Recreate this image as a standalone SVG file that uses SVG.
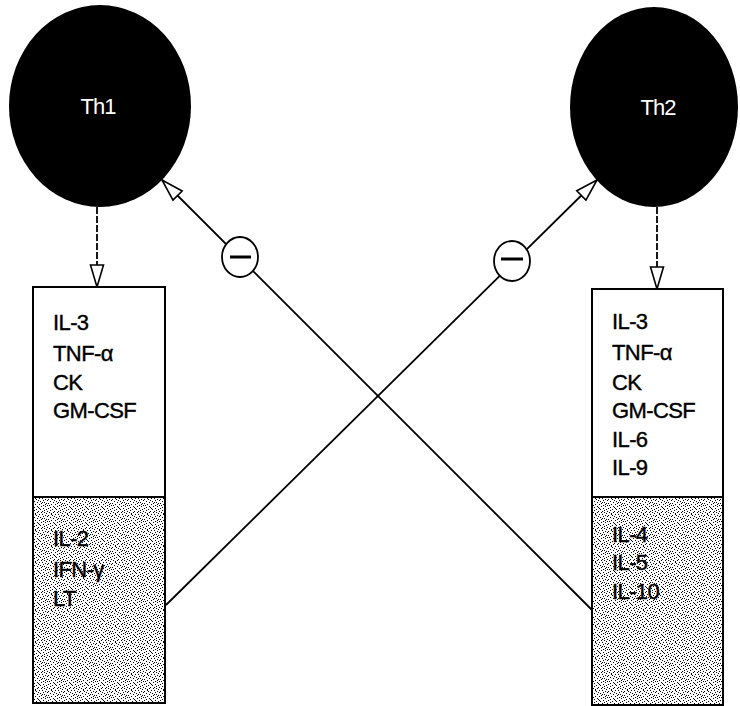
<svg xmlns="http://www.w3.org/2000/svg" width="740" height="706" viewBox="0 0 740 706">
<style>
.cell{fill:#000;stroke:none}
.cellt{font-family:"Liberation Sans",Arial,sans-serif;font-size:22px;fill:#fff;text-anchor:middle;letter-spacing:-1px}
.box{fill:#fff;stroke:#000;stroke-width:2}
.shade{fill:url(#stip);stroke:#000;stroke-width:2}
.lbl{font-family:"Liberation Sans",Arial,sans-serif;font-size:22px;fill:#000;stroke:#000;stroke-width:0.4;letter-spacing:-0.6px}
.conn{fill:none;stroke:#000;stroke-width:1.8}
.dash{stroke-dasharray:7 2}
.minus{fill:#fff;stroke:#000;stroke-width:1.8}
</style>
<defs>
<pattern id="stip" width="16" height="16" patternUnits="userSpaceOnUse">
<rect width="16" height="16" fill="#fff"/>
<path fill="#000" d="M1 0h1v1h-1zM5 0h1v1h-1zM9 0h1v1h-1zM12 0h1v1h-1zM14 1h1v1h-1zM3 1h1v1h-1zM7 2h1v1h-1zM10 2h1v1h-1zM0 3h1v1h-1zM4 3h1v1h-1zM13 3h1v1h-1zM6 4h1v1h-1zM11 4h1v1h-1zM15 4h1v1h-1zM2 5h1v1h-1zM8 5h1v1h-1zM12 6h1v1h-1zM5 6h1v1h-1zM0 7h1v1h-1zM9 7h1v1h-1zM14 7h1v1h-1zM3 8h1v1h-1zM7 8h1v1h-1zM11 9h1v1h-1zM1 9h1v1h-1zM15 9h1v1h-1zM5 10h1v1h-1zM9 10h1v1h-1zM13 10h1v1h-1zM2 11h1v1h-1zM7 12h1v1h-1zM11 12h1v1h-1zM0 12h1v1h-1zM4 13h1v1h-1zM14 13h1v1h-1zM8 13h1v1h-1zM2 14h1v1h-1zM12 14h1v1h-1zM6 15h1v1h-1zM10 15h1v1h-1zM15 15h1v1h-1zM3 2h1v1h-1zM13 8h1v1h-1zM6 11h1v1h-1zM10 6h1v1h-1z"/>
</pattern>
<marker id="open" viewBox="0 0 24 16" refX="23" refY="8" markerWidth="24" markerHeight="16" markerUnits="userSpaceOnUse" orient="auto">
<path d="M1,1.5 L23,8 L1,14.5 z" fill="#fff" stroke="#000" stroke-width="1.6" stroke-dasharray="none"/>
</marker>
</defs>
<rect width="740" height="706" fill="#fff"/>

<g id="th1">
<ellipse class="cell" cx="100" cy="106" rx="91" ry="101"/>
<text class="cellt" x="98" y="114">Th1</text>
</g>
<g id="th2">
<ellipse class="cell" cx="654" cy="107" rx="84" ry="100"/>
<text class="cellt" x="658" y="115">Th2</text>
</g>

<g id="th1-cytokines">
<rect class="box" x="33" y="287" width="132" height="210"/>
<text class="lbl" x="53" y="330">IL-3</text>
<text class="lbl" x="53" y="361">TNF-α</text>
<text class="lbl" x="53" y="390">CK</text>
<text class="lbl" x="53" y="418">GM-CSF</text>
</g>
<g id="th1-specific">
<rect class="shade" x="33" y="497" width="132" height="206"/>
<text class="lbl" x="53" y="546">IL-2</text>
<text class="lbl" x="53" y="577">IFN-γ</text>
<text class="lbl" x="53" y="606">LT</text>
</g>

<g id="th2-cytokines">
<rect class="box" x="592" y="289" width="131" height="208"/>
<text class="lbl" x="612" y="329">IL-3</text>
<text class="lbl" x="612" y="360">TNF-α</text>
<text class="lbl" x="612" y="390">CK</text>
<text class="lbl" x="612" y="418">GM-CSF</text>
<text class="lbl" x="612" y="447">IL-6</text>
<text class="lbl" x="612" y="475">IL-9</text>
</g>
<g id="th2-specific">
<rect class="shade" x="592" y="497" width="131" height="208"/>
<text class="lbl" x="612" y="542">IL-4</text>
<text class="lbl" x="612" y="570">IL-5</text>
<text class="lbl" x="612" y="599">IL-10</text>
</g>

<g id="connectors">
<line class="conn dash" x1="97" y1="207" x2="97" y2="287" marker-end="url(#open)"/>
<line class="conn dash" x1="657" y1="207" x2="657" y2="289" marker-end="url(#open)"/>
<line class="conn" x1="166" y1="605" x2="597" y2="180" marker-end="url(#open)"/>
<line class="conn" x1="592" y1="610" x2="162" y2="180" marker-end="url(#open)"/>
</g>

<g id="inhibit-th1">
<ellipse class="minus" cx="240" cy="257" rx="18" ry="20"/>
<line x1="230" y1="257" x2="251" y2="257" stroke="#000" stroke-width="3"/>
</g>
<g id="inhibit-th2">
<ellipse class="minus" cx="512" cy="261" rx="18" ry="20"/>
<line x1="501" y1="259" x2="523" y2="259" stroke="#000" stroke-width="3"/>
</g>
</svg>
